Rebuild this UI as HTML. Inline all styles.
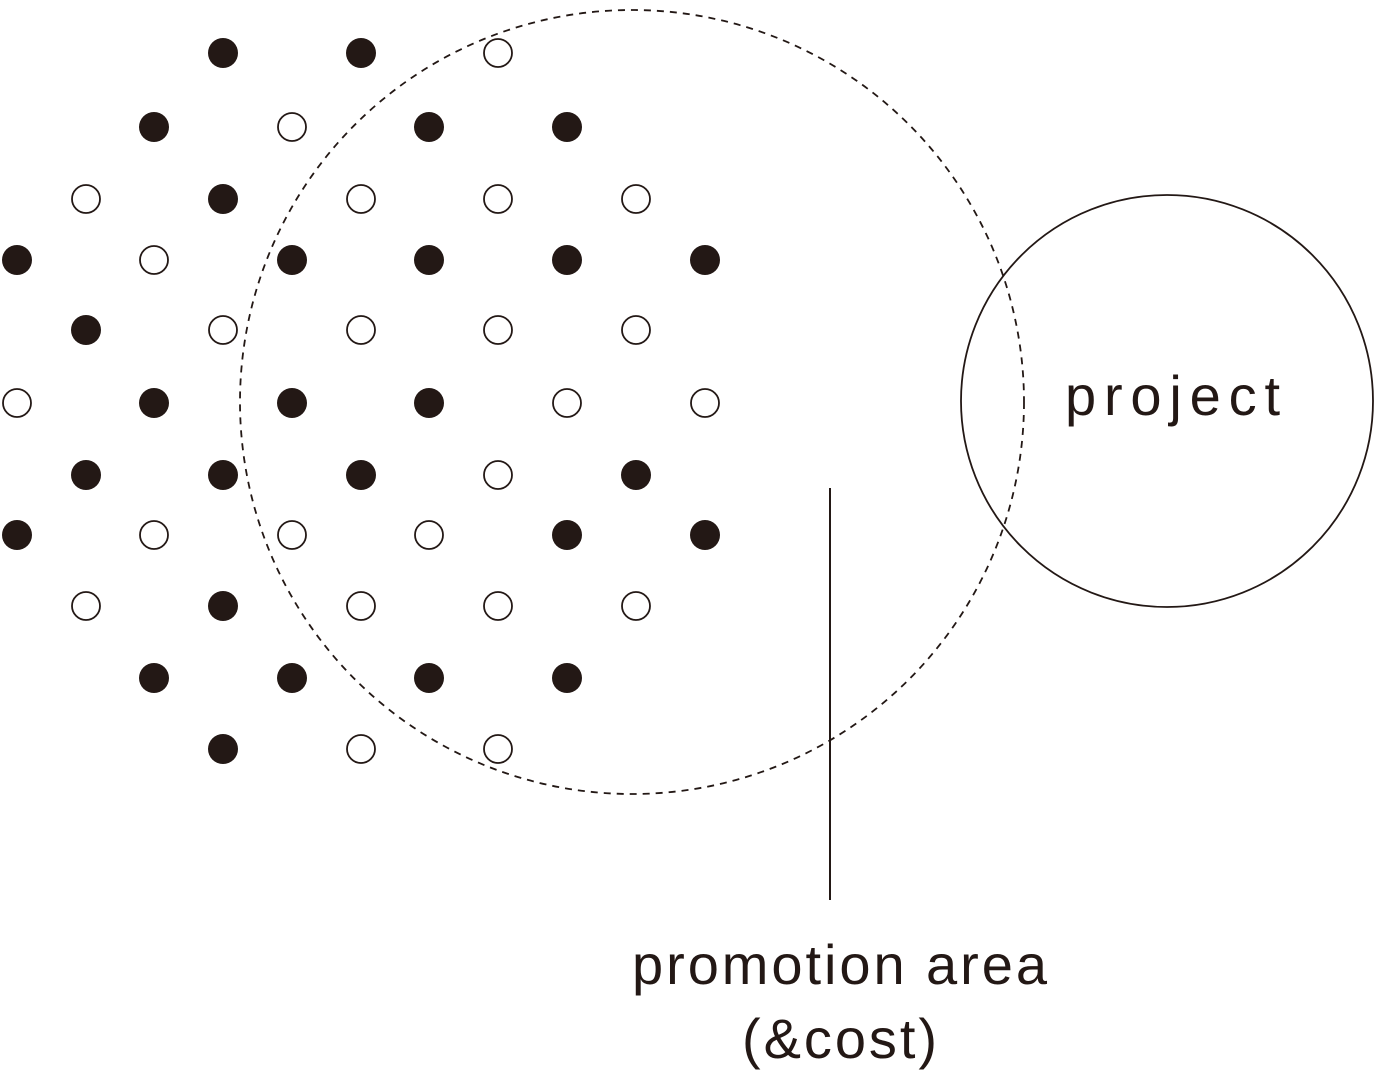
<!DOCTYPE html>
<html><head><meta charset="utf-8"><style>
html,body{margin:0;padding:0;background:#fff;}
svg{display:block;}
text{font-family:"Liberation Sans","DejaVu Sans",sans-serif;fill:#231815;}
</style></head><body>
<svg width="1375" height="1076" viewBox="0 0 1375 1076" xmlns="http://www.w3.org/2000/svg">
<g id="dots"></g>
<circle cx="632" cy="402" r="392" fill="none" stroke="#231815" stroke-width="1.8" stroke-dasharray="7,6"/>
<circle cx="1167" cy="401" r="206" fill="none" stroke="#231815" stroke-width="1.8"/>
<line x1="830" y1="488" x2="830" y2="900" stroke="#231815" stroke-width="2"/>
<text x="1065" y="415" font-size="56" textLength="215" lengthAdjust="spacing">project</text>
<text x="632" y="984" font-size="56" textLength="415" lengthAdjust="spacing">promotion area</text>
<text x="742" y="1058" font-size="56" textLength="195" lengthAdjust="spacing">(&amp;cost)</text>
</svg>
<script>
var X=[17,86,154,223,292,361,429,498,567,636,705];
var rows=[
[53,{3:1,5:1,7:0}],
[127,{2:1,4:0,6:1,8:1}],
[199,{1:0,3:1,5:0,7:0,9:0}],
[260,{0:1,2:0,4:1,6:1,8:1,10:1}],
[330,{1:1,3:0,5:0,7:0,9:0}],
[403,{0:0,2:1,4:1,6:1,8:0,10:0}],
[475,{1:1,3:1,5:1,7:0,9:1}],
[535,{0:1,2:0,4:0,6:0,8:1,10:1}],
[606,{1:0,3:1,5:0,7:0,9:0}],
[678,{2:1,4:1,6:1,8:1}],
[749,{3:1,5:0,7:0}]
];
var g=document.getElementById('dots'),s='';
rows.forEach(function(r){for(var k in r[1]){var f=r[1][k];
s+='<circle cx="'+X[k]+'" cy="'+r[0]+'" r="'+(f?15:14)+'" fill="'+(f?'#231815':'#fff')+'" stroke="#231815" stroke-width="'+(f?0:1.8)+'"/>';}});
g.innerHTML=s;
</script>
</body></html>
